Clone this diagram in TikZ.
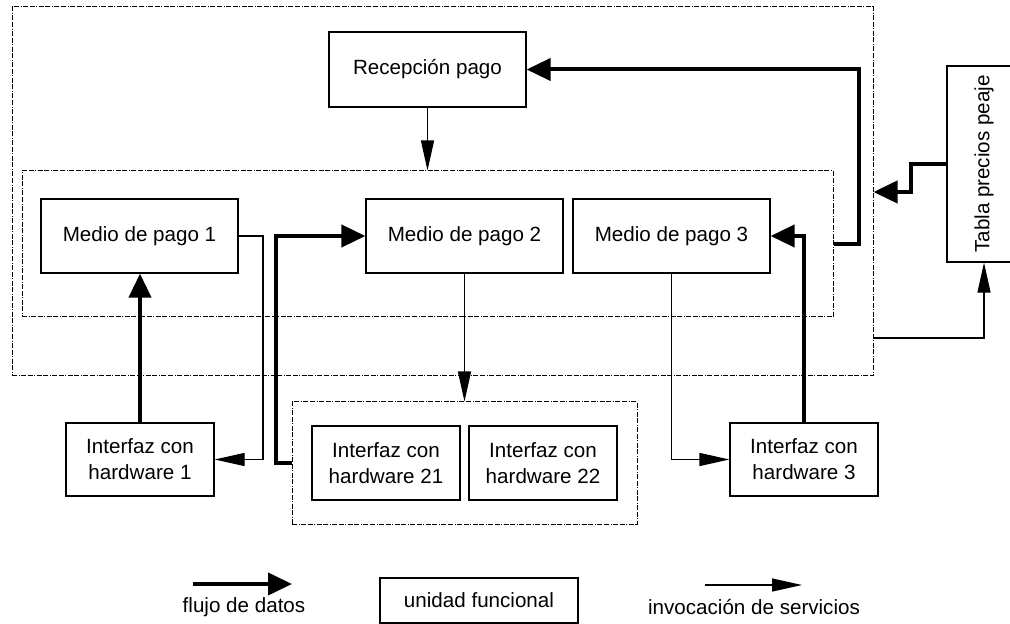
\documentclass[tikz,border=0pt]{standalone}
\usepackage{fontspec}
\setmainfont{Liberation Sans}
\usetikzlibrary{arrows.meta}

\tikzset{
  box/.style={draw, line width=0.6pt, inner sep=0pt, align=center, fill=white},
  group/.style={draw, line width=0.5pt, dash pattern=on 2.5pt off 0.8pt on 0.4pt off 0.8pt on 2.5pt off 0.8pt, inner sep=0pt},
  datos/.style={line width=2pt, -{Triangle[length=12pt,width=11pt]}},
  servicio/.style={line width=0.6pt, -{Triangle[length=15pt,width=6.5pt]}},
  every node/.style={font=\fontsize{10.3}{13}\selectfont},
}

\begin{document}
\begin{tikzpicture}[x=0.5pt, y=-0.5pt]
  \useasboundingbox (0,0) rectangle (1010,624);

  % grouping frames
  \node[group, minimum width=430.5pt, minimum height=184.5pt] (sistema) at (442.5,191.5) {};
  \node[group, minimum width=405.5pt, minimum height=73pt] (medios) at (427.5,244) {};
  \node[group, minimum width=172.5pt, minimum height=61pt] (hwdos) at (464.5,463) {};

  % functional units
  \node[box, minimum width=98.5pt, minimum height=37.5pt] (rec) at (427.5,69.5) {Recepción pago};
  \node[box, minimum width=98.5pt, minimum height=37pt] (m1) at (139.5,236) {Medio de pago 1};
  \node[box, minimum width=98.5pt, minimum height=37pt] (m2) at (464.5,236) {Medio de pago 2};
  \node[box, minimum width=98.5pt, minimum height=37pt] (m3) at (671.5,236) {Medio de pago 3};
  \node[box, minimum width=37pt, minimum height=98pt] (tab) at (984,164) {};
  \node[rotate=90] (tabtxt) at (tab.center) {Tabla precios peaje};
  \node[box, minimum width=74pt, minimum height=36.5pt] (ih1) at (140,459.5) {Interfaz con\\hardware 1};
  \node[box, minimum width=74pt, minimum height=37pt] (ih21) at (386,463) {Interfaz con\\hardware 21};
  \node[box, minimum width=74pt, minimum height=37pt] (ih22) at (543,463) {Interfaz con\\hardware 22};
  \node[box, minimum width=74pt, minimum height=36.5pt] (ih3) at (804,459.5) {Interfaz con\\hardware 3};

  % bend points
  \coordinate (kr) at (859,244);
  \coordinate (kt) at (911,192);
  \coordinate (ks) at (873,338);
  \coordinate (k1) at (263,236);
  \coordinate (k2) at (276,463);

  % service invocations
  \draw[servicio] (rec.south) -- (rec.south |- medios.north);
  \draw[servicio] (m1.east) -- (k1) |- (ih1.east);
  \draw[servicio] (m2.south) -- (hwdos.north);
  \draw[servicio] (m3.south) |- (ih3.west);
  \draw[servicio] (ks) -| (tab.south);

  % data flows
  \draw[datos] (medios.east) -- (kr) |- (rec.east);
  \draw[datos] (tab.west) -| (kt) -- (kt -| sistema.east);
  \draw[datos] (ih1.north) -- (ih1.north |- m1.south);
  \draw[datos] (hwdos.west) -- (k2) |- (m2.west);
  \draw[datos] (ih3.north) |- (m3.east);

  % legend
  \coordinate (la) at (193,584);
  \coordinate (lb) at (292,584);
  \coordinate (lc) at (705,585);
  \coordinate (ld) at (802,585);
  \draw[datos] (la) -- (lb);
  \node (ltxt1) at (244,607) {flujo de datos};
  \node[box, minimum width=99pt, minimum height=22.5pt] (leg) at (479,600.5) {unidad funcional};
  \draw[servicio] (lc) -- (ld);
  \node (ltxt2) at (754,607) {invocación de servicios};
\end{tikzpicture}
\end{document}
